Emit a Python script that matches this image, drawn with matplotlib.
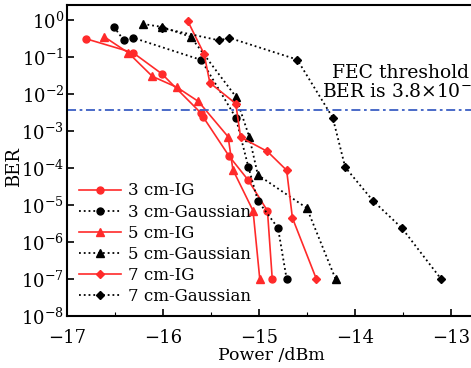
import numpy as np
import matplotlib
matplotlib.use('Agg')
import matplotlib.pyplot as plt
from matplotlib.ticker import LogLocator, MultipleLocator, NullLocator

plt.rcParams['font.family'] = ['DejaVu Serif']
plt.rcParams['mathtext.fontset'] = 'dejavuserif'
plt.rcParams['font.size'] = 12

# 3 cm-IG
x_3ig = [-16.8, -16.31, -16.01, -15.6, -15.58, -15.31, -15.11, -14.91, -14.86]
y_3ig = [0.31, 0.13, 0.035, 3.0e-3, 2.4e-3, 2.1e-4, 4.7e-5, 7.0e-6, 1e-7]
# 3 cm-Gaussian
x_3g = [-16.51, -16.41, -16.31, -15.6, -15.24, -15.11, -15.01, -14.8, -14.71]
y_3g = [0.65, 0.29, 0.33, 0.083, 2.3e-3, 1.1e-4, 1.3e-5, 2.4e-6, 1e-7]
# 5 cm-IG
x_5ig = [-16.61, -16.36, -16.11, -15.85, -15.63, -15.32, -15.27, -15.06, -14.99]
y_5ig = [0.35, 0.13, 0.03, 0.015, 6.3e-3, 7.0e-4, 9.0e-5, 7.0e-6, 1e-7]
# 5 cm-Gaussian
x_5g = [-16.21, -16.01, -15.71, -15.24, -15.1, -15.01, -14.5, -14.2]
y_5g = [0.78, 0.65, 0.35, 8.5e-3, 7.0e-4, 6.5e-5, 8.3e-6, 1e-7]
# 7 cm-IG
x_7ig = [-15.74, -15.57, -15.51, -15.24, -15.19, -14.91, -14.71, -14.65, -14.4]
y_7ig = [0.93, 0.12, 0.02, 5.5e-3, 6.8e-4, 2.8e-4, 8.7e-5, 4.5e-6, 1e-7]
# 7 cm-Gaussian
x_7g = [-16.01, -15.41, -15.31, -14.6, -14.23, -14.1, -13.81, -13.51, -13.1]
y_7g = [0.6, 0.28, 0.33, 0.085, 2.3e-3, 1.05e-4, 1.3e-5, 2.4e-6, 1e-7]

threshold = 3.8e-3
red = '#ff2a2a'

fig = plt.figure(figsize=(4.71, 3.68), dpi=100)
ax = fig.add_axes([0.142, 0.141, 0.868, 0.845])

ax.plot(x_3ig, y_3ig, '-', color=red, marker='o', ms=5, lw=1.2, label='3 cm-IG')
ax.plot(x_3g, y_3g, ':', color='black', marker='o', ms=5, lw=1.3, label='3 cm-Gaussian')
ax.plot(x_5ig, y_5ig, '-', color=red, marker='^', ms=5.5, lw=1.2, label='5 cm-IG')
ax.plot(x_5g, y_5g, ':', color='black', marker='^', ms=5.5, lw=1.3, label='5 cm-Gaussian')
ax.plot(x_7ig, y_7ig, '-', color=red, marker='D', ms=4.5, lw=1.2, label='7 cm-IG')
ax.plot(x_7g, y_7g, ':', color='black', marker='D', ms=4.5, lw=1.3, label='7 cm-Gaussian')

ax.axhline(threshold, color='#3b5fc4', ls=(0, (5, 2, 1.5, 2)), lw=1.3)
ax.text(-13.52, 10**-1.71, 'FEC threshold\n' + r'BER is 3.8$\times$10$^{-3}$',
        ha='center', va='center', multialignment='center', linespacing=0.92, fontsize=13.5)

ax.set_yscale('log')
ax.set_xlim(-17, -12.74)
ax.set_ylim(1e-8, 10**0.4)
ax.yaxis.set_major_locator(LogLocator(base=10, numticks=20))
ax.yaxis.set_minor_locator(NullLocator())
ax.xaxis.set_major_locator(MultipleLocator(1))
ax.xaxis.set_minor_locator(MultipleLocator(0.5))
ax.tick_params(direction='in', which='major', length=5, width=1.2, labelsize=13, pad=2)
ax.tick_params(direction='in', which='minor', length=3, width=0.8)
ax.tick_params(axis='x', pad=9)
for s in ax.spines.values():
    s.set_linewidth(1.5)

ax.set_xticks([-17, -16, -15, -14, -13])
ax.set_xticklabels(['\u221217', '\u221216', '\u221215', '\u221214', '\u221213'])
ax.set_xlabel('Power /dBm', fontsize=12.5)
ax.set_ylabel('BER', fontsize=13)
ax.xaxis.set_label_coords(0.5, -0.1)
ax.yaxis.set_label_coords(-0.108, 0.48)

ax.legend(loc='lower left', bbox_to_anchor=(0.03, 0.035), frameon=False,
          handlelength=2.5, handletextpad=0.45, labelspacing=0.25,
          borderpad=0, borderaxespad=0, fontsize=12)

plt.savefig('out.png', dpi=100)
